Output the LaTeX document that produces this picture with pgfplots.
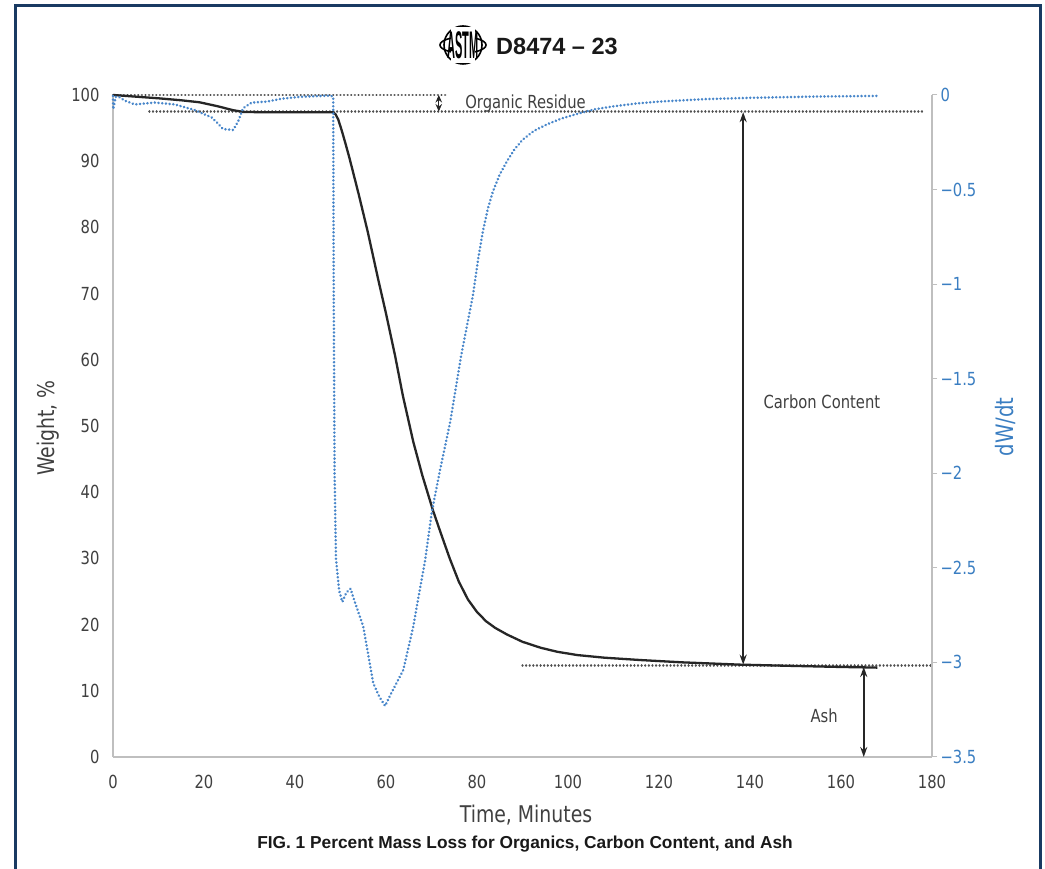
\documentclass[border=0pt]{standalone}
\usepackage{pgfplots}
\pgfplotsset{compat=1.18}
\usepackage{pgfplotstable}
\usepackage{graphicx}
\usepackage{fontspec}
\setmainfont{DejaVu Sans}[FakeStretch=0.82]
\newfontfamily\arialf{Liberation Sans}
\usetikzlibrary{arrows.meta}
\definecolor{framec}{RGB}{25,58,98}
\definecolor{curveblue}{RGB}{72,134,202}
\definecolor{tickblue}{RGB}{58,126,194}
\definecolor{txtgray}{RGB}{64,64,64}
\definecolor{axgray}{RGB}{191,191,191}
\definecolor{refgray}{RGB}{80,80,80}
\definecolor{curveblack}{RGB}{38,38,38}

\pgfplotstableread{
x w
0 100
5 99.75
10 99.5
15 99.2
19 98.9
23 98.3
26.4 97.7
28.6 97.45
32 97.4
40 97.4
48.3 97.4
48.9 97.1
49.5 96.3
50.2 94.8
51 92.9
52 90.4
54 85.0
56 79.3
58.3 72.1
60 67.0
62 60.6
63.7 54.6
66 47.6
68 42.5
70.3 37.3
72 33.9
74 30.0
76 26.5
78 23.8
80 21.9
82 20.5
84 19.5
86.6 18.5
90 17.4
94 16.5
97.6 15.9
102 15.4
108 15.0
115.8 14.65
125 14.3
137.8 13.95
150 13.75
160 13.6
168 13.5
}\weighttable

\pgfplotstableread{
x d
0 -0.005
0.05 -0.075
0.6 -0.01
1.3 -0.01
2.6 -0.03
4.8 -0.05
7 -0.045
9.2 -0.04
13.6 -0.05
18 -0.08
21.8 -0.12
24.2 -0.18
26.4 -0.185
27.5 -0.14
28.6 -0.07
30.5 -0.04
33.8 -0.035
37 -0.02
41 -0.01
47.8 -0.003
48.4 -0.01
48.5 -1.0
48.7 -2.0
49.0 -2.45
49.7 -2.62
50.4 -2.68
51.3 -2.63
52.2 -2.61
53 -2.67
55 -2.81
57.2 -3.11
58.5 -3.18
59.8 -3.23
61 -3.17
63.8 -3.04
66 -2.81
66.8 -2.70
68.6 -2.46
70.1 -2.2
71.9 -1.98
74.1 -1.73
76.5 -1.38
79.1 -1.06
80.3 -0.86
81.3 -0.72
82.4 -0.60
83.5 -0.51
85 -0.42
86.6 -0.35
88.3 -0.285
90.1 -0.235
92.5 -0.19
95.4 -0.155
98.5 -0.125
102 -0.10
106 -0.075
110 -0.06
115 -0.045
120 -0.035
130 -0.022
140 -0.015
155 -0.008
168 -0.005
}\dwtable

\begin{document}
\begin{tikzpicture}
\useasboundingbox (0pt,0pt) rectangle (1045pt,869pt);
\fill[white] (0pt,0pt) rectangle (1045pt,869pt);
\draw[framec, line width=3.5pt] (15.5pt,-5pt) -- (15.5pt,863.5pt) -- (1040.5pt,863.5pt) -- (1040.5pt,-5pt);

% logo and title
\begin{scope}[shift={(463pt,824pt)}]
\draw[black, line width=1.6pt] (0pt,0pt) ellipse (23pt and 8pt);
\draw[black, line width=1.6pt] (0pt,0pt) circle (19pt);
\fill[white] (-12pt,-18pt) rectangle (12pt,18pt);
\node[inner sep=0pt, font=\arialf\bfseries\fontsize{22}{22}\selectfont] at (0pt,0pt) {\scalebox{0.5}[1.75]{ASTM}};
\end{scope}
\node[font=\arialf\bfseries\fontsize{23.5}{24}\selectfont, text=black!90] at (557pt,823pt) {D8474 – 23};

\begin{axis}[
 at={(113pt,112pt)}, anchor=south west, scale only axis,
 width=819pt, height=662pt,
 xmin=0, xmax=180, ymin=0, ymax=100,
 axis x line*=bottom, axis y line*=left,
 axis line style={draw=axgray, line width=1.3pt},
 xtick={0,20,...,180}, ytick={0,10,...,100},
 major tick length=0pt,
 tick style={draw=none},
 /pgf/number format/assume math mode=true,
 tick label style={font=\fontsize{18}{20}\selectfont, text=txtgray},
 xticklabel style={yshift=-15pt},
 yticklabel style={xshift=-10pt},
 clip=false,
]
\draw[refgray, line width=2.4pt, dash pattern=on 0.01pt off 3.6pt, line cap=round] (axis cs:0,100) -- (axis cs:73.6,100);
\draw[refgray, line width=2.4pt, dash pattern=on 0.01pt off 3.6pt, line cap=round] (axis cs:8,97.5) -- (axis cs:178.5,97.5);
\draw[refgray, line width=2.4pt, dash pattern=on 0.01pt off 3.6pt, line cap=round] (axis cs:90,13.8) -- (axis cs:180,13.8);
\draw[curveblack, line width=1.6pt, {Stealth[length=10pt,width=7pt]}-{Stealth[length=10pt,width=7pt]}] (axis cs:138.5,97.4) -- (axis cs:138.5,13.95);
\draw[curveblack, line width=1.6pt, {Stealth[length=10pt,width=7pt]}-{Stealth[length=10pt,width=7pt]}] (axis cs:165,13.6) -- (axis cs:165,0);
\draw[curveblack, line width=1.2pt, {Stealth[length=7.5pt,width=6.5pt]}-{Stealth[length=7.5pt,width=6.5pt]}] (axis cs:71.6,100) -- (axis cs:71.6,97.5);
\node[inner sep=0pt, anchor=base west, font=\fontsize{18}{20}\selectfont, text=txtgray] at (axis cs:77.4,98.0) {Organic Residue};
\node[font=\fontsize{18}{20}\selectfont, text=txtgray] at (axis cs:155.8,53.6) {Carbon Content};
\node[font=\fontsize{18}{20}\selectfont, text=txtgray] at (axis cs:156.3,6.2) {Ash};
\addplot[curveblack, line width=2.3pt, line join=round] table[x=x,y=w]{\weighttable};
\end{axis}

\begin{axis}[
 at={(113pt,112pt)}, anchor=south west, scale only axis,
 width=819pt, height=662pt,
 xmin=0, xmax=180, ymin=-3.5, ymax=0,
 axis x line=none, axis y line*=right,
 axis line style={draw=axgray, line width=1.3pt},
 ytick={-3.5,-3,-2.5,-2,-1.5,-1,-0.5,0},
 yticklabels={−3.5,−3,−2.5,−2,−1.5,−1,−0.5,0},
 tick align=outside, major tick length=5pt,
 ytick style={draw=axgray, line width=1pt},
 yticklabel style={font=\fontsize{18}{20}\selectfont, text=tickblue},
 clip=false,
]
\addplot[curveblue, line width=2.8pt, dash pattern=on 0.01pt off 3.7pt, line cap=round, line join=round] table[x=x,y=d]{\dwtable};
\end{axis}

\node[rotate=90, font=\fontsize{23}{24}\selectfont, text=txtgray] at (48pt,441pt) {Weight, \%};
\node[rotate=90, font=\fontsize{24}{24}\selectfont, text=tickblue] at (1005pt,442pt) {dW/dt};
\node[font=\fontsize{23}{24}\selectfont, text=txtgray] at (526pt,54pt) {Time, Minutes};
\node[font=\arialf\bfseries\fontsize{17.3}{18}\selectfont, text=black!90] at (525pt,25pt) {FIG. 1 Percent Mass Loss for Organics, Carbon Content, and Ash};
\end{tikzpicture}
\end{document}
